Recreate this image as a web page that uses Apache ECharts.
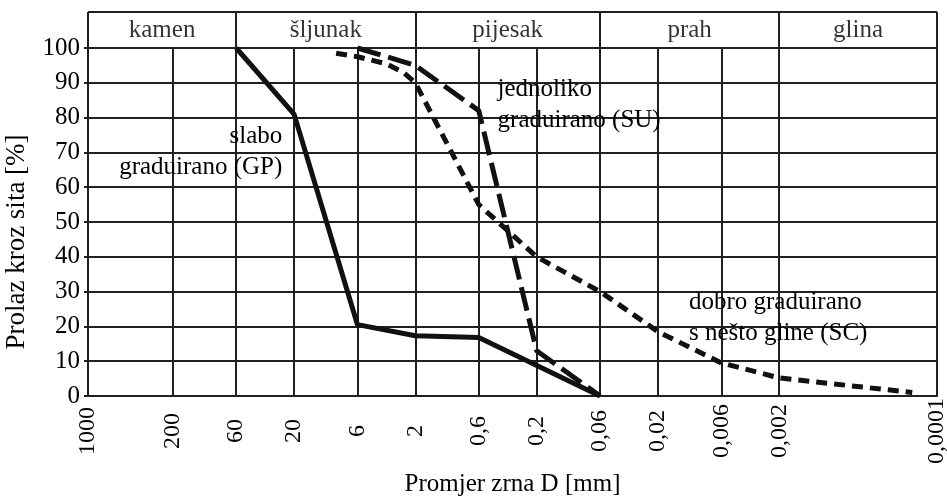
<!DOCTYPE html>
<html>
<head>
<meta charset="utf-8">
<title>Granulometrijske krivulje</title>
<script src="https://cdn.jsdelivr.net/npm/echarts@6/dist/echarts.min.js"></script>
<style>
	html, body { margin: 0; padding: 0; background: #fff; }
	#main { width: 947px; height: 497px; }
</style>
</head>
<body>
<div id="main"></div>
<script>
	// promjer zrna D [mm] i prolaz kroz sito [%]
	var gpD = [60, 20, 6, 2, 0.6, 0.06];
	var gpP = [100, 81, 20.5, 17.3, 16.8, 0];
	var suD = [6, 2, 0.6, 0.2, 0.06];
	var suP = [100, 95, 82, 13, 0];
	var scD = [9, 6, 3.5, 2.5, 2, 0.6, 0.2, 0.06, 0.02, 0.006, 0.002, 0.00016];
	var scP = [98.5, 97.5, 95.5, 93, 90, 55, 40, 30, 18.5, 9.5, 5.2, 1];

	// oznake osi x
	var xTicks = [1000, 200, 60, 20, 6, 2, 0.6, 0.2, 0.06, 0.02, 0.006, 0.002, 0.0001];
	var xTickLabels = ['1000', '200', '60', '20', '6', '2', '0,6', '0,2', '0,06', '0,02', '0,006', '0,002', '0,0001'];

	// vrste tla i granice
	var zoneNames = ['kamen', 'šljunak', 'pijesak', 'prah', 'glina'];
	var zoneBounds = [1000, 60, 2, 0.06, 0.002, 0.0001];

	var font = 'Liberation Serif, Times New Roman, serif';
	var gridColor = '#231f20';
	var curveColor = '#111111';

	function lg(v) { return Math.log10(v); }
	function pts(D, P) {
		return D.map(function (d, i) { return [lg(d), P[i]]; });
	}
	function xLabel(v) {
		for (var i = 0; i < xTicks.length; i++) {
			if (Math.abs(lg(xTicks[i]) - v) < 1e-6) return xTickLabels[i];
		}
		return '';
	}

	var zoneData = zoneNames.map(function (n, i) {
		return { name: n, value: [(lg(zoneBounds[i]) + lg(zoneBounds[i + 1])) / 2, 0.5] };
	});

	function note(x, y, text, side) {
		return {
			symbol: 'circle',
			symbolSize: 0,
			silent: true,
			data: [{ coord: [lg(x), y] }],
			label: {
				show: true,
				position: side,
				distance: 0,
				formatter: text,
				align: side === 'left' ? 'right' : 'left',
				verticalAlign: 'middle',
				fontFamily: font,
				fontSize: 25,
				lineHeight: 31,
				color: '#000'
			}
		};
	}

	var myChart = echarts.init(document.getElementById('main'));
	var option = {
		animation: false,
		backgroundColor: '#fff',
		grid: [
			{ left: 88, right: 10, top: 48, bottom: 101, containLabel: false, outerBoundsMode: 'none' },
			{ left: 88, right: 10, top: 12, height: 36, containLabel: false, outerBoundsMode: 'none' }
		],
		xAxis: [
			{
				gridIndex: 0,
				type: 'value',
				min: -4,
				max: 3,
				inverse: true,
				name: 'Promjer zrna D [mm]',
				nameLocation: 'middle',
				nameGap: 76,
				nameTextStyle: { fontFamily: font, fontSize: 25, color: '#000' },
				axisLine: { show: true, onZero: false, lineStyle: { color: gridColor, width: 2 } },
				axisTick: { show: false, customValues: xTicks.map(lg) },
				axisLabel: {
					customValues: xTicks.map(lg),
					rotate: 90,
					align: 'center',
					verticalAlign: 'middle',
					margin: 35,
					formatter: xLabel,
					fontFamily: font,
					fontSize: 24,
					color: '#000'
				},
				splitLine: { show: true, lineStyle: { color: gridColor, width: 2 } }
			},
			{
				gridIndex: 1,
				type: 'value',
				min: -4,
				max: 3,
				inverse: true,
				axisLine: { show: false, onZero: false },
				axisTick: { show: false, customValues: zoneBounds.map(lg) },
				axisLabel: { show: false },
				splitLine: { show: true, lineStyle: { color: gridColor, width: 2 } }
			}
		],
		yAxis: [
			{
				gridIndex: 0,
				type: 'value',
				min: 0,
				max: 100,
				interval: 10,
				name: 'Prolaz kroz sita [%]',
				nameLocation: 'middle',
				nameGap: 58,
				nameTextStyle: { fontFamily: font, fontSize: 27, color: '#000', padding: [0, 40, 0, 0] },
				axisLine: { show: true, onZero: false, lineStyle: { color: gridColor, width: 2 } },
				axisTick: { show: true, length: 4, lineStyle: { color: gridColor, width: 2 } },
				axisLabel: { margin: 8, fontFamily: font, fontSize: 25, color: '#000' },
				splitLine: { show: true, lineStyle: { color: gridColor, width: 2 } }
			},
			{
				gridIndex: 1,
				type: 'value',
				min: 0,
				max: 1,
				interval: 1,
				axisLine: { show: false, onZero: false },
				axisTick: { show: false },
				axisLabel: { show: false },
				splitLine: { show: true, lineStyle: { color: gridColor, width: 2 } }
			}
		],
		series: [
			{
				name: 'GP',
				type: 'line',
				xAxisIndex: 0,
				yAxisIndex: 0,
				data: pts(gpD, gpP),
				symbol: 'none',
				z: 5,
				lineStyle: { color: curveColor, width: 5, type: 'solid' },
				markPoint: note(25, 70, 'slabo\ngraduirano (GP)', 'left')
			},
			{
				name: 'SU',
				type: 'line',
				xAxisIndex: 0,
				yAxisIndex: 0,
				data: pts(suD, suP),
				symbol: 'none',
				z: 5,
				lineStyle: { color: curveColor, width: 5, type: [24, 8] },
				markPoint: note(0.42, 83.5, 'jednoliko\ngraduirano (SU)', 'right')
			},
			{
				name: 'SC',
				type: 'line',
				xAxisIndex: 0,
				yAxisIndex: 0,
				data: pts(scD, scP),
				symbol: 'none',
				z: 5,
				lineStyle: { color: curveColor, width: 5, type: [11, 7] },
				markPoint: note(0.0111, 22.3, 'dobro graduirano\ns nešto gline (SC)', 'right')
			},
			{
				name: 'zone',
				type: 'scatter',
				xAxisIndex: 1,
				yAxisIndex: 1,
				data: zoneData,
				symbolSize: 0,
				silent: true,
				label: {
					show: true,
					position: 'inside',
					formatter: '{b}',
					fontFamily: font,
					fontSize: 25,
					color: '#000'
				}
			}
		]
	};
	myChart.setOption(option);
</script>
</body>
</html>
